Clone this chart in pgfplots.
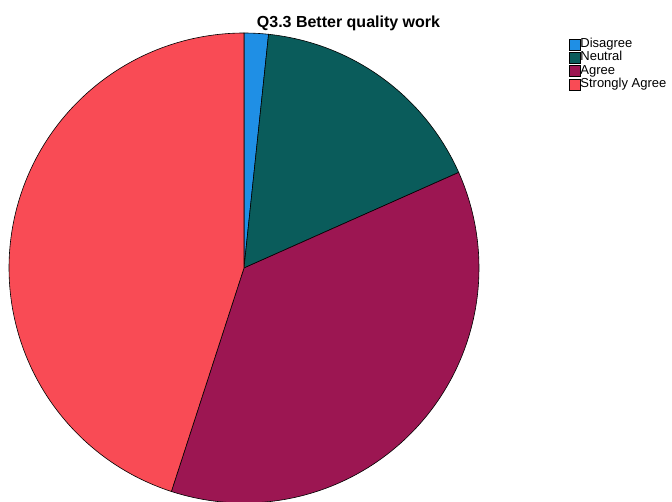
\documentclass[border=0pt]{standalone}
\usepackage{pgfplots}
\usepackage{pgfplotstable}
\pgfplotsset{compat=1.18}
\usepackage{fontspec}
\setmainfont{Liberation Sans}
\definecolor{cDis}{HTML}{1F8FE5}
\definecolor{cNeu}{HTML}{0A5C5B}
\definecolor{cAgr}{HTML}{9C1652}
\definecolor{cSA}{HTML}{F94B55}
\pgfplotstableread{
label count
Disagree 1
Neutral 10
Agree 22
StronglyAgree 27
}\piedata
\pgfplotstablegetelem{0}{count}\of\piedata \edef\nA{\pgfplotsretval}
\pgfplotstablegetelem{1}{count}\of\piedata \edef\nB{\pgfplotsretval}
\pgfplotstablegetelem{2}{count}\of\piedata \edef\nC{\pgfplotsretval}
\pgfplotstablegetelem{3}{count}\of\piedata \edef\nD{\pgfplotsretval}
\pgfmathsetmacro\tot{\nA+\nB+\nC+\nD}
\pgfmathsetmacro\aO{90}
\pgfmathsetmacro\aA{90-360*\nA/\tot}
\pgfmathsetmacro\aB{\aA-360*\nB/\tot}
\pgfmathsetmacro\aC{\aB-360*\nC/\tot}
\pgfmathsetmacro\aD{\aC-360*\nD/\tot}
\def\cx{244}\def\cy{233}\def\R{235}
\begin{document}
\begin{tikzpicture}
\begin{axis}[
  hide axis, scale only axis,
  width=672pt, height=501pt,
  xmin=0, xmax=672, ymin=0, ymax=501,
  legend style={at={(axis cs:568.7,463.2)}, anchor=north west, draw=none, fill=none,
    font=\fontsize{13}{13.3}\selectfont, inner sep=0pt, row sep=0pt,
    nodes={inner sep=0pt, text height=9.5pt, text depth=3.8pt},
    /tikz/every even column/.append style={column sep=3.6pt}},
  legend cell align=left,
  legend image code/.code={\draw[#1, draw=black, line width=0.5pt] (0pt,-5.5pt) rectangle (11pt,5.5pt);},
]
\addplot[fill=cDis, draw=black, line width=0.6pt, domain=\aA:\aO, samples=10] ({\cx+\R*cos(x)},{\cy+\R*sin(x)}) -- (axis cs:\cx,\cy) -- cycle;
\addlegendentry{Disagree}
\addplot[fill=cNeu, draw=black, line width=0.6pt, domain=\aB:\aA, samples=60] ({\cx+\R*cos(x)},{\cy+\R*sin(x)}) -- (axis cs:\cx,\cy) -- cycle;
\addlegendentry{Neutral}
\addplot[fill=cAgr, draw=black, line width=0.6pt, domain=\aC:\aB, samples=120] ({\cx+\R*cos(x)},{\cy+\R*sin(x)}) -- (axis cs:\cx,\cy) -- cycle;
\addlegendentry{Agree}
\addplot[fill=cSA, draw=black, line width=0.6pt, domain=\aD:\aC, samples=150] ({\cx+\R*cos(x)},{\cy+\R*sin(x)}) -- (axis cs:\cx,\cy) -- cycle;
\addlegendentry{Strongly Agree}
\node[font=\bfseries\fontsize{16}{18}\selectfont, anchor=base, inner sep=0pt] at (axis cs:348.5,473) {Q3.3 Better quality work};
\end{axis}
\pgfresetboundingbox
\path (current axis.south west) rectangle (current axis.north east);
\end{tikzpicture}
\end{document}
